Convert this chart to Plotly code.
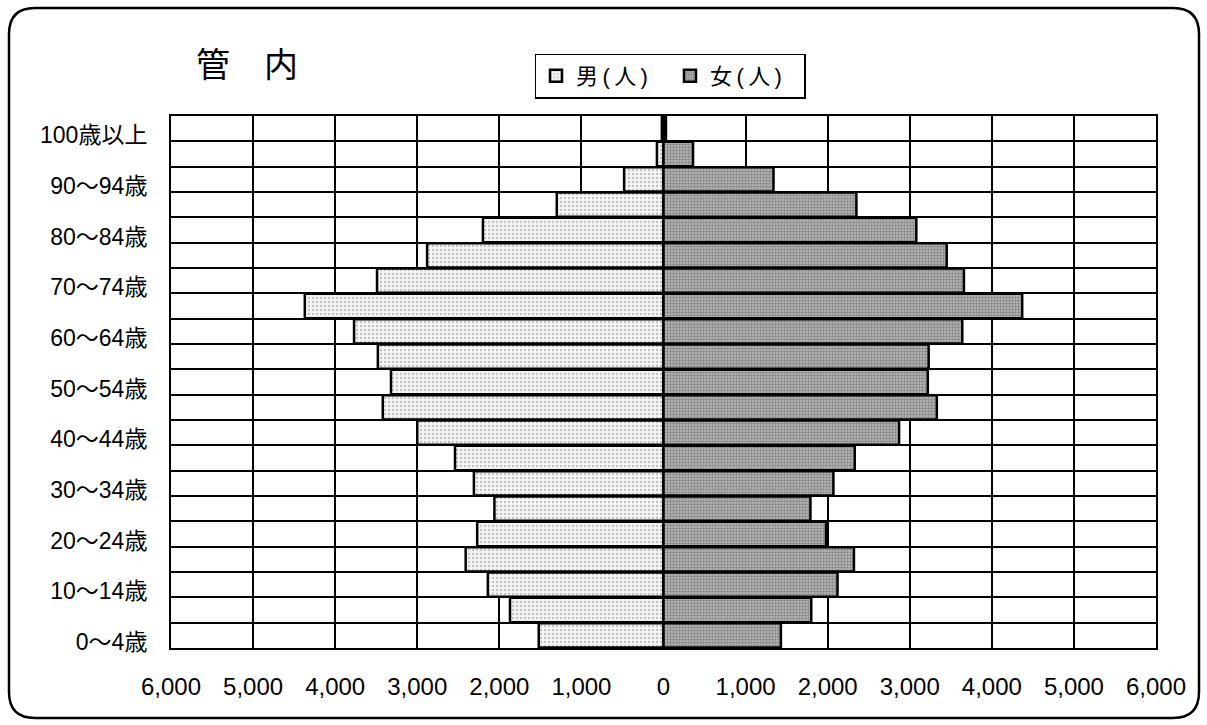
import plotly.graph_objects as go

# ---- data ----
age_groups = ["0～4歳", "5～9歳", "10～14歳", "15～19歳", "20～24歳", "25～29歳",
              "30～34歳", "35～39歳", "40～44歳", "45～49歳", "50～54歳", "55～59歳",
              "60～64歳", "65～69歳", "70～74歳", "75～79歳", "80～84歳", "85～89歳",
              "90～94歳", "95～99歳", "100歳以上"]
male = [1520, 1870, 2140, 2410, 2270, 2060, 2310, 2540, 3000, 3420, 3320,
        3480, 3770, 4370, 3490, 2880, 2200, 1300, 480, 80, 20]
female = [1430, 1800, 2120, 2320, 1980, 1790, 2070, 2330, 2870, 3330, 3220,
          3230, 3640, 4370, 3660, 3450, 3080, 2350, 1340, 360, 30]
x_ticks = [-6000, -5000, -4000, -3000, -2000, -1000, 0, 1000, 2000, 3000, 4000, 5000, 6000]
x_ticktext = ["6,000", "5,000", "4,000", "3,000", "2,000", "1,000", "0",
              "1,000", "2,000", "3,000", "4,000", "5,000", "6,000"]
title_text = "管　内"
male_name = "男\u2009(\u2009人\u2009)"
female_name = "女\u2009(\u2009人\u2009)"

FONT = "Liberation Sans, Arial, Noto Sans CJK JP, sans-serif"
W, H = 1207, 725
L, R, T, B = 171, 51, 116, 77
pw, ph = W - L - R, H - T - B

idx = list(range(len(age_groups)))
label_idx = [i for i in idx if i % 2 == 0]

fig = go.Figure()
fig.add_trace(go.Bar(
    y=idx, x=[-v for v in male], orientation="h", name=male_name,
    marker=dict(color="#f2f2f2", line=dict(color="black", width=2.5),
                pattern=dict(shape=".", fgcolor="#8a8a8a", bgcolor="#f4f4f4",
                             size=4, solidity=0.25)),
    hoverinfo="skip",
))
fig.add_trace(go.Bar(
    y=idx, x=female, orientation="h", name=female_name,
    marker=dict(color="#a0a0a0", line=dict(color="black", width=2.5),
                pattern=dict(shape=".", fgcolor="#505050", bgcolor="#bcbcbc",
                             size=3, solidity=0.5)),
    hoverinfo="skip",
))

fig.update_layout(
    width=W, height=H,
    margin=dict(l=L, r=R, t=T, b=B),
    paper_bgcolor="white", plot_bgcolor="white",
    barmode="overlay", bargap=0.04,
    font=dict(family=FONT, color="black", size=20),
    showlegend=True,
    legend=dict(orientation="h", x=(670 - L) / pw, y=(H - 76 - B) / ph,
                xanchor="center", yanchor="middle",
                bordercolor="black", borderwidth=1.5, bgcolor="white",
                font=dict(size=22, family=FONT), itemwidth=30,
                entrywidth=89, entrywidthmode="pixels",
                traceorder="normal"),
    xaxis=dict(range=[-6000, 6000], tickmode="array", tickvals=x_ticks,
               ticktext=x_ticktext, showgrid=True, gridcolor="black", gridwidth=2,
               zeroline=True, zerolinecolor="black", zerolinewidth=2,
               showline=True, linecolor="black", linewidth=2, mirror=True,
               ticks="", ticklabelstandoff=16,
               tickfont=dict(size=24, family=FONT), fixedrange=True),
    yaxis=dict(range=[-0.5, len(age_groups) - 0.5], tickmode="array",
               tickvals=[i - 0.26 for i in label_idx],
               ticktext=[age_groups[i] for i in label_idx],
               showgrid=False, zeroline=False,
               showline=True, linecolor="black", linewidth=2, mirror=True,
               ticks="", ticklabelstandoff=17,
               tickfont=dict(size=23, family=FONT),
               minor=dict(tickmode="array",
                          tickvals=[i + 0.5 for i in range(-1, len(age_groups))],
                          showgrid=True, gridcolor="black", gridwidth=2, ticks=""),
               fixedrange=True),
)

fig.add_annotation(text=title_text, xref="paper", yref="paper",
                   x=(247 - L) / pw, y=(H - 63 - B) / ph,
                   xanchor="center", yanchor="middle", showarrow=False,
                   font=dict(size=34, family="Noto Sans CJK JP", color="black"))

# rounded outer frame (pixel coords -> paper coords)
def px(xp):
    return (xp - L) / pw

def py(yp):
    return (H - B - yp) / ph

x0, x1, y0, y1, r = 9, 1199, 8, 718, 26
path = (f"M {px(x0 + r)},{py(y0)} L {px(x1 - r)},{py(y0)} "
        f"Q {px(x1)},{py(y0)} {px(x1)},{py(y0 + r)} "
        f"L {px(x1)},{py(y1 - r)} Q {px(x1)},{py(y1)} {px(x1 - r)},{py(y1)} "
        f"L {px(x0 + r)},{py(y1)} Q {px(x0)},{py(y1)} {px(x0)},{py(y1 - r)} "
        f"L {px(x0)},{py(y0 + r)} Q {px(x0)},{py(y0)} {px(x0 + r)},{py(y0)} Z")
fig.add_shape(type="path", path=path, xref="paper", yref="paper",
              line=dict(color="black", width=2.5), layer="below")

fig.write_html("out.html", config={"displayModeBar": False})
